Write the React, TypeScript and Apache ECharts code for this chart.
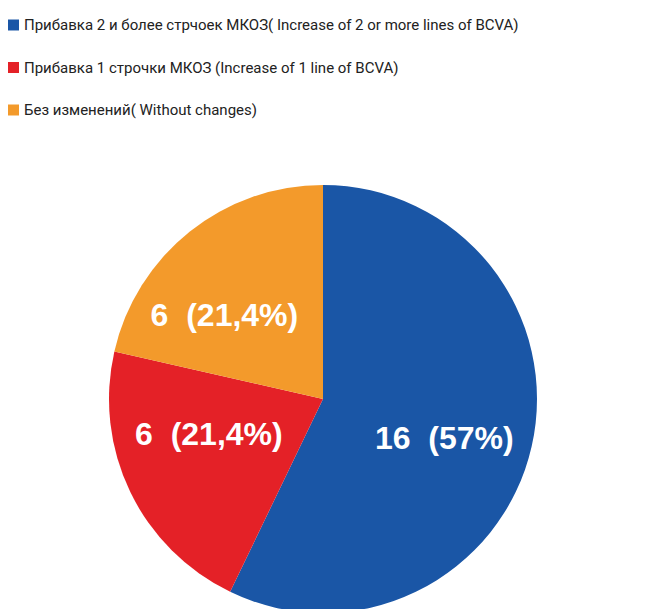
import React, { useEffect, useRef } from "react";
import * as echarts from "echarts";

const categories = [
  "Прибавка 2 и более стрчоек МКОЗ( Increase of 2 or more lines of BCVA)",
  "Прибавка 1 строчки МКОЗ (Increase of 1 line of BCVA)",
  "Без изменений( Without changes)",
];
const counts = [16, 6, 6];
const percentLabels = ["57%", "21,4%", "21,4%"];
const colors = ["#1a56a6", "#e42127", "#f39a2b"];
const labelOffsets = [
  [14, 15],
  [-15, -13],
  [-30, 2],
];

export default function App() {
  const ref = useRef<HTMLDivElement>(null);
  useEffect(() => {
    if (!ref.current) return;
    const chart = echarts.init(ref.current, null, { renderer: "svg" });
    chart.setOption({
      animation: false,
      backgroundColor: "#ffffff",
      legend: {
        orient: "vertical",
        left: 8,
        top: 15,
        padding: 0,
        itemWidth: 11,
        itemHeight: 11,
        itemGap: 22.5,
        icon: "rect",
        textStyle: {
          fontFamily: "Roboto, 'Liberation Sans', sans-serif",
          fontSize: 15,
          lineHeight: 20,
          color: "#222222",
        },
        data: categories,
      },
      series: [
        {
          type: "pie",
          center: [323, 399],
          radius: 214,
          startAngle: 90,
          clockwise: true,
          silent: true,
          labelLine: { show: false },
          data: categories.map((name, i) => ({
            name,
            value: counts[i],
            itemStyle: { color: colors[i] },
            label: {
              show: true,
              position: "inside",
              offset: labelOffsets[i],
              formatter: `${counts[i]}  (${percentLabels[i]})`,
              color: "#ffffff",
              fontFamily: "'Liberation Sans', Arial, sans-serif",
              fontWeight: "bold",
              fontSize: 32,
            },
          })),
        },
      ],
    });
    return () => chart.dispose();
  }, []);
  return (
    <div
      ref={ref}
      style={{ position: "fixed", left: 0, top: 0, width: 646, height: 609 }}
    />
  );
}
